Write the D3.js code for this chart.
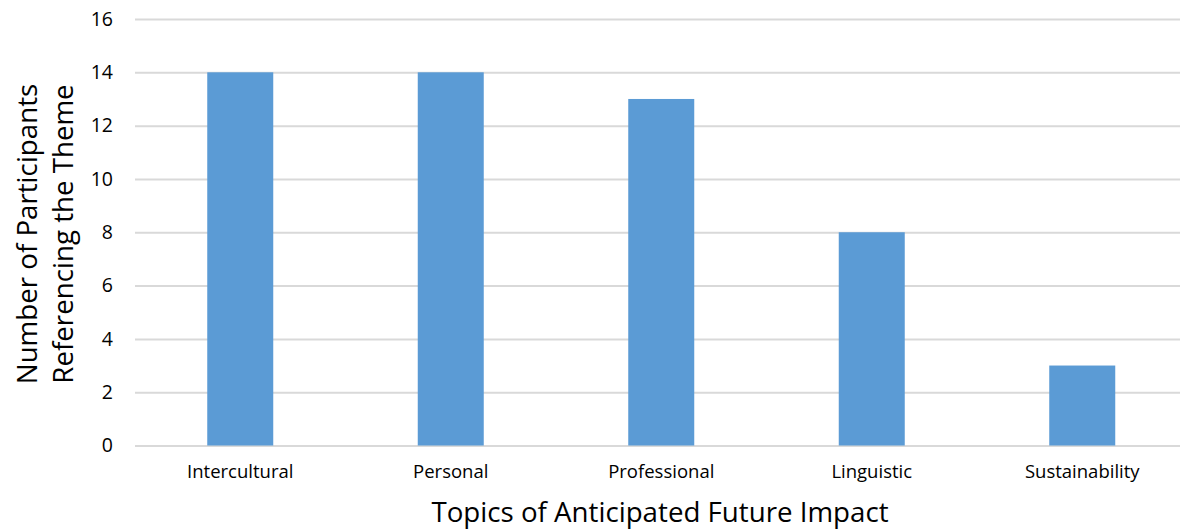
<!DOCTYPE html>
<html>
<head>
<meta charset="utf-8">
<script src="https://cdn.jsdelivr.net/npm/d3@7"></script>
<style>
  html, body { margin: 0; padding: 0; background: #fff; }
  svg { display: block; font-family: "Open Sans", "Noto Sans", sans-serif; }
</style>
</head>
<body>
<svg id="chart" width="1180" height="529"></svg>
<script>
// Topics and how many participants referenced each one
const categories = ["Intercultural", "Personal", "Professional", "Linguistic", "Sustainability"];
const participants = [14, 14, 13, 8, 3];
const yTicks = [0, 2, 4, 6, 8, 10, 12, 14, 16];
const yTitleLines = ["Number of Participants", "Referencing the Theme"];
const xTitle = "Topics of Anticipated Future Impact";

const svg = d3.select("#chart");
const plotLeft = 135, plotRight = 1187.5, plotTop = 19, plotBottom = 445.5;
const pad = 1 - 66 / 210.5;

const x = d3.scaleBand()
  .domain(categories)
  .range([plotLeft, plotRight])
  .paddingInner(pad)
  .paddingOuter(pad / 2);

const y = d3.scaleLinear().domain([0, 16]).range([plotBottom, plotTop]);

// Horizontal gridlines with tick labels on the left
const yAxis = d3.axisLeft(y).tickValues(yTicks).tickSize(-(plotRight - plotLeft)).tickPadding(22);
const gy = svg.append("g").attr("transform", `translate(${plotLeft},0)`).call(yAxis);
gy.select(".domain").remove();
gy.selectAll(".tick line").attr("stroke", "#d9d9d9").attr("stroke-width", 2);
gy.selectAll(".tick text")
  .attr("fill", "#000")
  .style("font-size", "19.5px")
  .style("font-family", "'Open Sans', sans-serif");

// Bars
svg.append("g").selectAll("rect")
  .data(categories)
  .join("rect")
  .attr("x", d => x(d))
  .attr("width", x.bandwidth())
  .attr("y", (d, i) => y(participants[i]))
  .attr("height", (d, i) => y(0) - y(participants[i]))
  .attr("fill", "#5b9bd5");

// Category labels
const xAxis = d3.axisBottom(x).tickSize(0).tickPadding(19);
const gx = svg.append("g").attr("transform", `translate(0,${plotBottom})`).call(xAxis);
gx.select(".domain").remove();
gx.selectAll(".tick text")
  .attr("fill", "#000")
  .style("font-size", "18.5px")
  .style("font-family", "'Open Sans', sans-serif");

// Axis titles
svg.append("text")
  .attr("x", 660).attr("y", 522)
  .attr("text-anchor", "middle")
  .style("font-size", "27.7px")
  .attr("fill", "#000")
  .text(xTitle);

const yt = svg.append("text")
  .attr("transform", "translate(0,234) rotate(-90)")
  .attr("text-anchor", "middle")
  .style("font-size", "27.7px")
  .attr("fill", "#000");
yTitleLines.forEach((line, i) => {
  yt.append("tspan").attr("x", 0).attr("y", 37 + i * 36).text(line);
});
</script>
</body>
</html>
